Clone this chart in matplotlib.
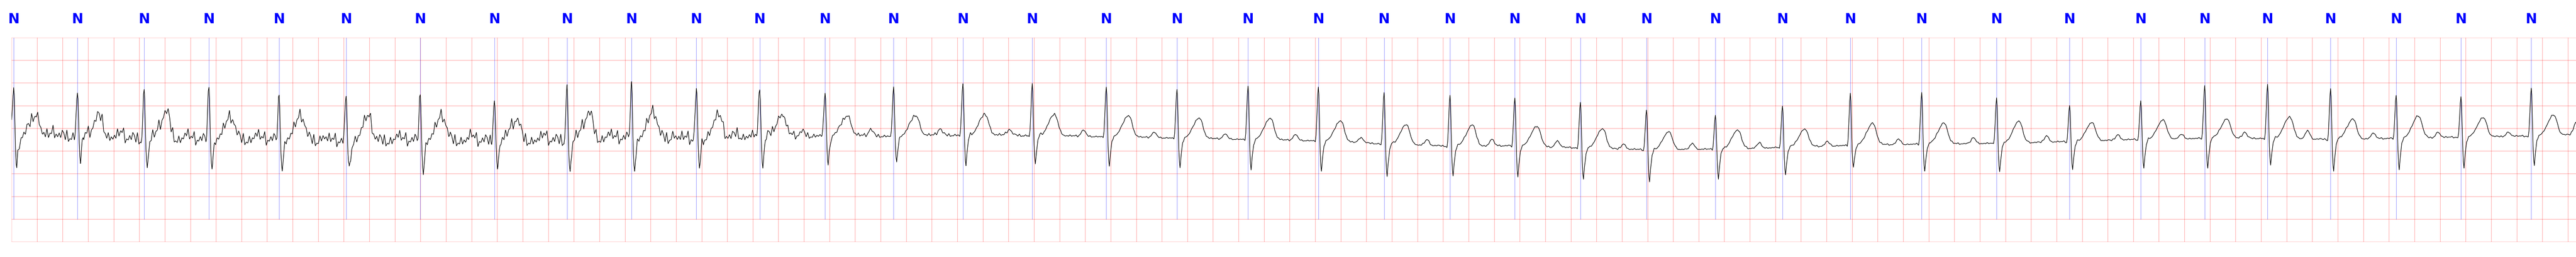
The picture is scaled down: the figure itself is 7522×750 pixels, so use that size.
import numpy as np
import matplotlib.pyplot as plt

# record length shown (s) and sampling used to draw the trace
duration = 20.062
fs = 1000

# beat annotations (R peak times in s)
r_times = [0.016, 0.515, 1.037, 1.544, 2.093, 2.617, 3.197, 3.777, 4.345, 4.850,
           5.357, 5.853, 6.364, 6.900, 7.442, 7.985, 8.564, 9.117, 9.673, 10.223,
           10.737, 11.253, 11.760, 12.273, 12.790, 13.329, 13.854, 14.385, 14.943, 15.529,
           16.100, 16.657, 17.157, 17.649, 18.142, 18.655, 19.162, 19.712, 20.240]
labels = ['N'] * 38

# per beat amplitudes in mV
r_peak = [0.894, 0.818, 0.851, 0.944, 0.710, 0.652, 0.717, 0.684, 0.907, 0.944,
          0.848, 0.894, 0.775, 0.874, 0.982, 0.987, 0.907, 0.856, 0.937, 0.914,
          0.788, 0.737, 0.687, 0.566, 0.400, 0.295, 0.490, 0.773, 0.788, 0.679,
          0.503, 0.604, 0.930, 0.975, 0.874, 0.730, 0.687, 0.881, 0.880]
s_trough = [-0.944, -0.755, -0.854, -0.821, -0.869, -0.939, -0.949, -0.854, -0.955, -0.879,
            -0.886, -0.848, -0.836, -0.755, -0.818, -0.798, -0.836, -0.869, -0.919, -0.944,
            -1.071, -1.045, -1.058, -1.126, -1.190, -1.120, -1.020, -0.848, -0.929, -0.962,
            -0.919, -0.891, -0.870, -0.810, -0.944, -0.904, -0.869, -0.816, -0.850]
t_peak = [0.340, 0.275, 0.360, 0.250, 0.275, 0.240, 0.275, 0.200, 0.340, 0.360,
          0.275, 0.313, 0.300, 0.300, 0.320, 0.313, 0.295, 0.242, 0.237, 0.180,
          0.086, 0.080, 0.053, -0.010, -0.073, -0.033, -0.008, 0.124, 0.129, 0.167,
          0.129, 0.187, 0.217, 0.258, 0.212, 0.283, 0.237, 0.295, 0.250]
baseline = [-0.200, -0.160, -0.230, -0.240, -0.240, -0.280, -0.255, -0.270, -0.255, -0.205,
            -0.230, -0.167, -0.154, -0.167, -0.140, -0.154, -0.180, -0.210, -0.240, -0.270,
            -0.340, -0.390, -0.380, -0.430, -0.470, -0.457, -0.420, -0.370, -0.343, -0.330,
            -0.290, -0.240, -0.217, -0.217, -0.240, -0.217, -0.190, -0.167, -0.116]
p_amp = [0.10, 0.10, 0.10, 0.10, 0.10, 0.10, 0.10, 0.10, 0.10, 0.10,
         0.10, 0.10, 0.09, 0.15, 0.15, 0.14, 0.14, 0.12, 0.11, 0.13,
         0.126, 0.126, 0.15, 0.15, 0.126, 0.15, 0.126, 0.10, 0.12, 0.146,
         0.156, 0.13, 0.10, 0.146, 0.19, 0.126, 0.126, 0.10, 0.28]
noise_level = [1.0, 1.0, 1.0, 1.0, 1.0, 1.0, 1.0, 1.0, 1.0, 1.0,
               1.0, 0.8, 0.4, 0.25, 0.25, 0.2, 0.12, 0.12, 0.12, 0.12,
               0.12, 0.12, 0.12, 0.12, 0.12, 0.12, 0.12, 0.12, 0.12, 0.12,
               0.12, 0.12, 0.12, 0.12, 0.12, 0.12, 0.12, 0.12, 0.12]

qrs_ms = [-36, -24, -18, -11, -5, 0, 4, 9, 14, 19, 24, 31, 44, 60]
r_frac = [0, -0.02, 0.1, 0.47, 0.85, 1.0, 0.85, 0.3, 0, 0, 0, 0, 0, 0]
s_frac = [0, 0, 0, 0, 0, 0, 0, 0, 0.35, 0.8, 1.0, 0.64, 0.17, 0]
t_ms = [40, 65, 85, 105, 125, 145, 160, 174, 188, 198, 210, 228, 250, 270]
t_frac = [0, 0.05, 0.12, 0.3, 0.55, 0.8, 0.95, 1.0, 0.9, 0.72, 0.42, 0.13, 0.02, 0]
p_ms = [-225, -205, -190, -180, -170, -155, -135]
p_frac = [0, 0.3, 0.8, 1.0, 0.8, 0.3, 0]

jitter = [0.17, -0.02, 0.06, 0.03, 0.17, -0.13, -0.02, -0.04, 0.06, -0.03, 0.13, 0.07,
          -0.08, 0.13, -0.12, -0.06, -0.08, 0.07, -0.08, 0.01, -0.04, 0.05, -0.02]
jitter_step = 0.012

t = np.arange(0, duration, 1.0 / fs)
sig = np.interp(t, r_times, baseline)
for i, rt in enumerate(r_times):
    d = (t - rt) * 1000
    b0 = baseline[i]
    bt = np.interp(rt + 0.174, r_times, baseline)
    sig += (r_peak[i] - b0) * np.interp(d, qrs_ms, r_frac, left=0, right=0)
    sig += (s_trough[i] - b0) * np.interp(d, qrs_ms, s_frac, left=0, right=0)
    sig += (t_peak[i] - bt) * np.interp(d, t_ms, t_frac, left=0, right=0)
    sig += p_amp[i] * np.interp(d, p_ms, p_frac, left=0, right=0)

n_j = int(duration / jitter_step) + 2
jit = np.interp(t, np.arange(n_j) * jitter_step, np.resize(jitter, n_j))
sig += jit * np.interp(t, r_times, noise_level)

fig = plt.figure(figsize=(75.22, 7.5), dpi=100)
ax = fig.add_axes([34 / 7522, 44 / 750, 1 - 34 / 7522, 596 / 750])
ax.set_xlim(0, duration)
ax.set_ylim(-2.5, 2.0)
ax.set_xticks(np.arange(0, 20.01, 0.2))
ax.set_yticks(np.arange(-2.5, 2.01, 0.5))
ax.grid(True, color='red', alpha=0.25, lw=1.5)
ax.tick_params(length=0, labelbottom=False, labelleft=False)
for sp in ax.spines.values():
    sp.set_visible(False)

ann = [x for x in r_times if x <= duration][:len(labels)]
ax.vlines(ann, -2.0, 2.0, colors='blue', alpha=0.5, lw=0.8)
for x, lab in zip(ann, labels):
    ax.text(x, 2.4, lab, ha='center', va='center', color='blue', fontsize=29,
            fontweight='bold', family=['Liberation Sans Narrow', 'DejaVu Sans'], clip_on=False)

ax.plot(t, sig, color='black', lw=1.2)

fig.savefig('out.png', dpi=100)
